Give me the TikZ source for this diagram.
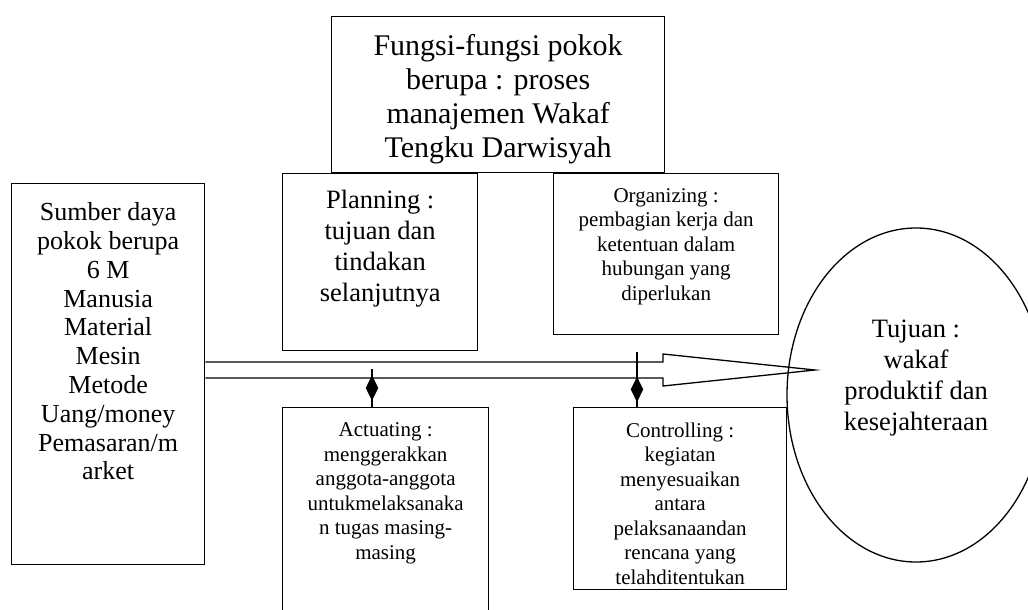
\documentclass[tikz,border=0pt]{standalone}
\usepackage{fontspec}
\setmainfont{Liberation Serif}
\usetikzlibrary{positioning,shapes.geometric}

\tikzset{
  box/.style={draw, rectangle, inner sep=0pt, anchor=north west},
  txt/.style={align=center, inner sep=0pt, anchor=north},
  bigtxt/.style={txt, font=\fontsize{30}{34}\selectfont},
  midtxt/.style={txt, font=\fontsize{26.5}{31}\selectfont},
  smalltxt/.style={txt, font=\fontsize{21}{24.5}\selectfont},
  diam/.style={diamond, fill, inner sep=0pt, minimum width=13pt, minimum height=26pt},
}

\begin{document}
\begin{tikzpicture}[x=1pt, y=-1pt, line width=1.3pt]
  \path[use as bounding box, clip] (0,0) rectangle (1028,610);

  % Fungsi pokok
  \node[box, minimum width=333pt, minimum height=156pt] (fungsi) at (331,16) {};
  \node[bigtxt, below=18pt of fungsi.north] (fungsitxt)
    {Fungsi-fungsi pokok\\berupa : proses\\manajemen Wakaf\\Tengku Darwisyah};

  % Sumber daya
  \node[box, minimum width=193pt, minimum height=381pt] (src) at (11,183) {};
  \node[txt, font=\fontsize{26}{28.8}\selectfont, below=19pt of src.north] (srctxt)
    {Sumber daya\\pokok berupa\\6 M\\Manusia\\Material\\Mesin\\Metode\\Uang/money\\Pemasaran/m\\arket};

  % Planning and Organizing
  \node[box, minimum width=195pt, minimum height=177pt] (plan) at (282,173) {};
  \node[midtxt, below=16pt of plan.north] (plantxt)
    {Planning :\\tujuan dan\\tindakan\\selanjutnya};
  \node[box, minimum width=225pt, minimum height=161pt] (org) at (553,173) {};
  \node[smalltxt, below=14.5pt of org.north] (orgtxt)
    {Organizing :\\pembagian kerja dan\\ketentuan dalam\\hubungan yang\\diperlukan};

  % Actuating and Controlling
  \node[box, minimum width=206pt, minimum height=240pt] (act) at (282,407) {};
  \node[smalltxt, below=15pt of act.north] (acttxt)
    {Actuating :\\menggerakkan\\anggota-anggota\\untukmelaksanaka\\n tugas masing-\\masing};
  \node[box, minimum width=213pt, minimum height=182pt] (ctrl) at (573,407) {};
  \node[smalltxt, below=15pt of ctrl.north] (ctrltxt)
    {Controlling :\\kegiatan\\menyesuaikan\\antara\\pelaksanaandan\\rencana yang\\telahditentukan};

  % Tujuan
  \node[draw, ellipse, inner sep=0pt, minimum width=258pt, minimum height=334pt] (goal) at (916,395) {};
  \node[midtxt, below=92pt of goal.north] (goaltxt)
    {Tujuan :\\wakaf\\produktif dan\\kesejahteraan};

  % main flow
  \coordinate (tip) at (815,370);
  \draw (src.east |- 0,362) -- (663,362) -- (663,354) -- (tip)
    -- (663,386) -- (663,378) -- (src.east |- 0,378);

  \coordinate (a1) at (372,369);
  \coordinate (c1) at (637,352);
  \draw (a1) -- node[diam, name=d1] {} (a1 |- act.north);
  \draw (c1) -- node[diam, pos=0.68, name=d2] {} (c1 |- ctrl.north);
\end{tikzpicture}
\end{document}
